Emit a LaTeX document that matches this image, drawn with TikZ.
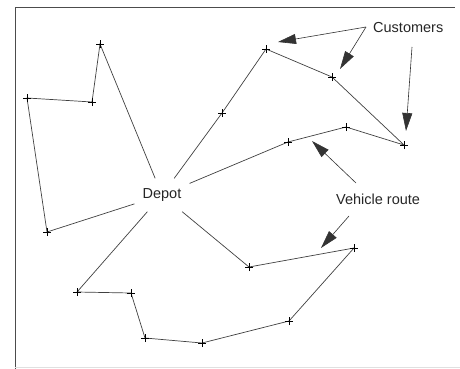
\documentclass[tikz,border=0pt]{standalone}
\usepackage{fontspec}
\setmainfont{Liberation Sans}
\usetikzlibrary{arrows.meta}
\begin{document}
\begin{tikzpicture}[x=1pt,y=-1pt,
  route/.style={draw=black!75,line width=0.7pt},
  plus/.style={draw=black,line width=0.7pt},
  callout/.style={draw=black!80,line width=0.6pt,-{Triangle[length=18pt,width=10pt]}},
  lbl/.style={font=\fontsize{14.5}{16}\selectfont,text=black!85,inner sep=0pt}]
\useasboundingbox (0,0) rectangle (460,369);
\draw[black!70,line width=0.8pt] (15,369) -- (15,7) -- (455,7);
\draw[black!12,line width=0.8pt] (15,367.5) -- (460,367.5);
% customers
\coordinate (a1) at (100,44);
\coordinate (a2) at (92,102);
\coordinate (a3) at (27,98);
\coordinate (a4) at (47,232);
\coordinate (b1) at (222,113);
\coordinate (b2) at (266,49);
\coordinate (b3) at (332,77);
\coordinate (b4) at (404,145);
\coordinate (b5) at (346,127);
\coordinate (b6) at (288,142);
\coordinate (c1) at (249,267);
\coordinate (c2) at (354,248);
\coordinate (c3) at (289,321);
\coordinate (c4) at (202,343);
\coordinate (c5) at (145,338);
\coordinate (c6) at (131,293);
\coordinate (c7) at (77,292);
% depot
\node[lbl,inner xsep=8pt,inner ysep=10pt] (depot) at (162,195) {Depot};
% routes
\draw[route] (depot) -- (a1) -- (a2) -- (a3) -- (a4) -- (depot);
\draw[route] (depot) -- (b1) -- (b2) -- (b3) -- (b4) -- (b5) -- (b6) -- (depot);
\draw[route] (depot) -- (c1) -- (c2) -- (c3) -- (c4) -- (c5) -- (c6) -- (c7) -- (depot);
% plus marks
\foreach \p in {a1,a2,a3,a4,b1,b2,b3,b4,b5,b6,c1,c2,c3,c4,c5,c6,c7}
  \draw[plus] ([xshift=-4pt]\p) -- ([xshift=4pt]\p) ([yshift=-4pt]\p) -- ([yshift=4pt]\p);
% labels
\node[lbl,anchor=west] (cust) at (373,28) {Customers};
\node[lbl,anchor=west] (veh) at (336,199) {Vehicle route};
\coordinate (cs) at (366,27);
\coordinate (cs3) at (412,47);
\coordinate (ce1) at (278,42);
\coordinate (ce2) at (340,69);
\coordinate (ce3) at (406,131);
\coordinate (vs1) at (356,183);
\coordinate (vs2) at (349,216);
\coordinate (ve1) at (312,141);
\coordinate (ve2) at (321,248);
\draw[callout] (cs) -- (ce1);
\draw[callout] (cs) -- (ce2);
\draw[callout] (cs3) -- (ce3);
\draw[callout] (vs1) -- (ve1);
\draw[callout] (vs2) -- (ve2);
\end{tikzpicture}
\end{document}
